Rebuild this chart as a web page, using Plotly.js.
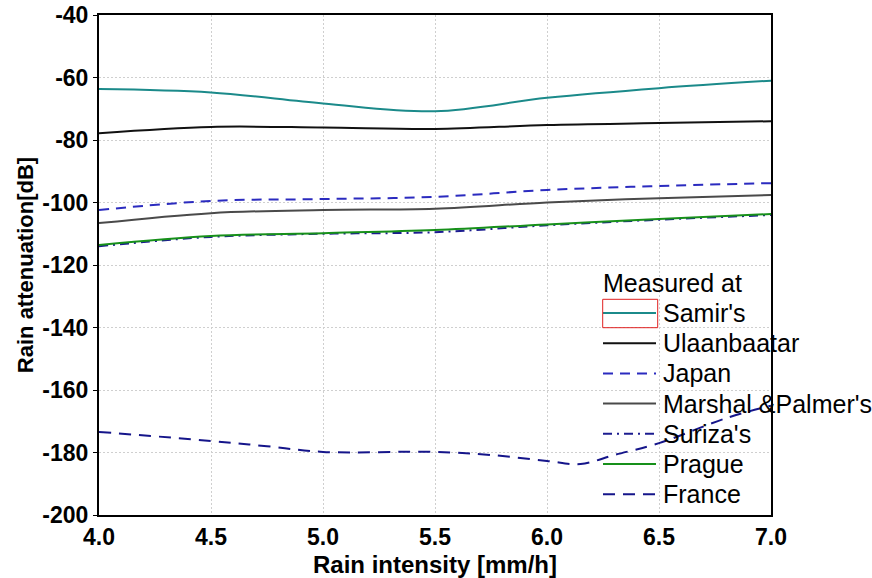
<!DOCTYPE html>
<html>
<head>
<meta charset="utf-8">
<script src="https://cdn.plot.ly/plotly-3.0.1.min.js"></script>
<style>html,body{margin:0;padding:0;background:#fff;}#chart{width:872px;height:578px;}</style>
</head>
<body>
<div id="chart"></div>
<script>
// Rain intensity [mm/h]
const xIntensity = [4.0, 4.5, 5.0, 5.5, 6.0, 6.5, 7.0];
const samirs      = [-63.7, -64.8, -68.3, -70.8, -66.5, -63.4, -61.0];
const ulaanbaatar = [-77.8, -75.8, -76.0, -76.5, -75.2, -74.6, -74.0];
const japan       = [-102.4, -99.5, -98.9, -98.2, -96.0, -94.7, -93.8];
const marshalPalmer = [-106.6, -103.4, -102.4, -102.0, -100.0, -98.6, -97.6];
const surizas     = [-114.0, -111.0, -110.0, -109.5, -107.3, -105.5, -104.0];
const prague      = [-113.6, -110.7, -109.8, -108.8, -107.0, -105.3, -103.7];
const xFrance     = [4.0, 4.5, 4.75, 5.0, 5.5, 5.75, 6.0, 6.15, 6.3, 6.5, 6.8, 7.0];
const france      = [-173.4, -176.3, -178.0, -179.8, -179.8, -180.8, -182.7, -183.7, -180.8, -177.0, -169.0, -165.0];
const yTicks = [-200, -180, -160, -140, -120, -100, -80, -60, -40];
const yTickText = ['-200', '-180', '-160', '-140', '-120', '-100', '-80', '-60', '-40'];
const xTicks = [4.0, 4.5, 5.0, 5.5, 6.0, 6.5, 7.0];
const seriesNames = ["Samir's", 'Ulaanbaatar', 'Japan', "Marshal &Palmer's", "Suriza's", 'Prague', 'France'];
const legendTitle = 'Measured at';

const styles = [
  {color: '#1b8a8a', width: 2, dash: 'solid'},
  {color: '#111111', width: 2, dash: 'solid'},
  {color: '#2b2bbf', width: 2, dash: '10px,7px'},
  {color: '#4a4a4a', width: 2, dash: 'solid'},
  {color: '#1c1c90', width: 2, dash: '9px,5px,2px,5px'},
  {color: '#17901a', width: 2, dash: 'solid'},
  {color: '#15158a', width: 2, dash: '12px,8px'}
];
const xs = [xIntensity, xIntensity, xIntensity, xIntensity, xIntensity, xIntensity, xFrance];
const ys = [samirs, ulaanbaatar, japan, marshalPalmer, surizas, prague, france];

const traces = seriesNames.map((n, i) => ({
  type: 'scatter', mode: 'lines', name: n, x: xs[i], y: ys[i],
  line: Object.assign({shape: 'spline'}, styles[i])
}));

// manual legend (pixel layout converted to paper coordinates)
const L = 99, W = 672, T = 15, H = 500;
const px = p => (p - L) / W;
const py = p => 1 - (p - T) / H;
const shapes = [];
const annotations = [{
  xref: 'paper', yref: 'paper', x: px(601), y: py(283), xanchor: 'left', yanchor: 'middle',
  text: legendTitle, showarrow: false, font: {size: 25, color: '#000'}
}];
seriesNames.forEach((n, i) => {
  const yc = 313 + i * 30.2;
  shapes.push({type: 'line', xref: 'paper', yref: 'paper', x0: px(603), x1: px(656), y0: py(yc), y1: py(yc),
    line: {color: styles[i].color, width: styles[i].width, dash: styles[i].dash}});
  annotations.push({xref: 'paper', yref: 'paper', x: px(661), y: py(yc), xanchor: 'left', yanchor: 'middle',
    text: n, showarrow: false, font: {size: 25, color: '#000'}});
});
shapes.push({type: 'rect', xref: 'paper', yref: 'paper', x0: px(602.7), x1: px(657.7), y0: py(327.7), y1: py(299.3),
  line: {color: '#e02020', width: 1}, fillcolor: 'rgba(0,0,0,0)'});

const layout = {
  width: 872, height: 578,
  margin: {l: 99, r: 101, t: 15, b: 63},
  paper_bgcolor: '#ffffff', plot_bgcolor: '#ffffff',
  font: {family: 'Arial, "Liberation Sans", sans-serif', color: '#000'},
  showlegend: false,
  xaxis: {
    range: [4.0, 7.0], tickvals: xTicks, tickformat: '.1f',
    showgrid: true, gridcolor: '#cfcfcf', griddash: '2px,2px', gridwidth: 1,
    showline: true, linecolor: '#000', linewidth: 2, mirror: true,
    ticks: '', zeroline: false,
    tickfont: {size: 23, weight: 'bold'},
    title: {text: '<b>Rain intensity [mm/h]</b>', font: {size: 24}, standoff: 10}
  },
  yaxis: {
    range: [-200, -40], tickvals: yTicks, ticktext: yTickText,
    showgrid: true, gridcolor: '#cfcfcf', griddash: '2px,2px', gridwidth: 1,
    showline: true, linecolor: '#000', linewidth: 2, mirror: true,
    ticks: 'outside', ticklen: 4, tickcolor: '#000', zeroline: false,
    tickfont: {size: 23, weight: 'bold'},
    title: {text: '<b>Rain attenuation[dB]</b>', font: {size: 22}, standoff: 3}
  },
  shapes: shapes,
  annotations: annotations
};

Plotly.newPlot('chart', traces, layout, {displayModeBar: false, staticPlot: true});
</script>
</body>
</html>
